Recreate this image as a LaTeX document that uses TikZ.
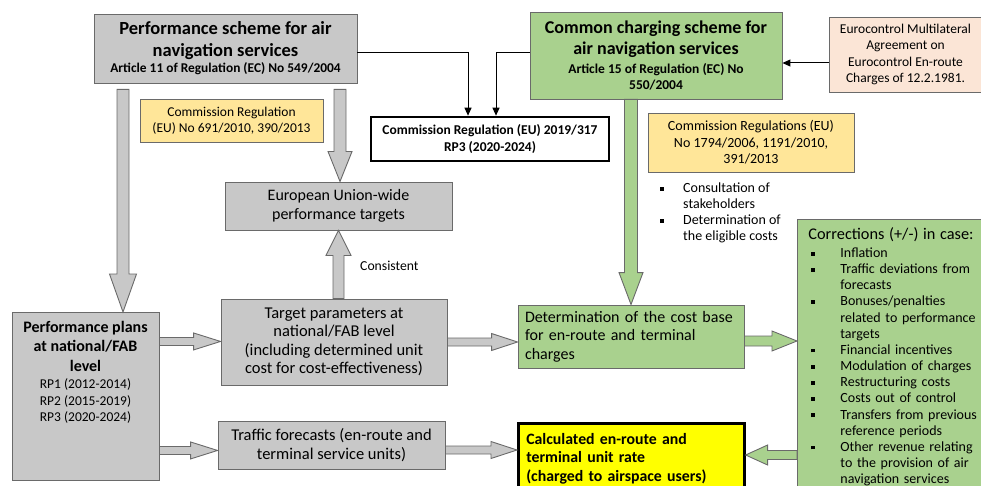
\documentclass[tikz,border=0pt]{standalone}
\usepackage{fontspec}
\setmainfont{Carlito}
\usetikzlibrary{calc,arrows.meta}
\definecolor{boxgray}{HTML}{C8C8C8}
\definecolor{edgegray}{HTML}{6A6A6A}
\definecolor{boxgreen}{HTML}{A9D18E}
\definecolor{boxyellow}{HTML}{FFE699}
\definecolor{boxpeach}{HTML}{FBE5D6}
\definecolor{brightyellow}{HTML}{FFFF00}
\newcommand{\fs}[2]{\fontsize{#1}{#2}\selectfont}
\newcommand{\bul}[1]{\makebox[#1][l]{\raisebox{2pt}{\rule{3.6pt}{3.6pt}}}}
\newcommand{\blockarrow}[6][]{%
  \path[#1] let \p1=(#2), \p2=(#3), \n1={atan2((\y2)-(\y1),(\x2)-(\x1))} in
    ($(\p1)+(\n1+90:#4)$) -- ($(\p2)+(\n1+180:#6)+(\n1+90:#4)$) --
    ($(\p2)+(\n1+180:#6)+(\n1+90:#5)$) -- (\p2) --
    ($(\p2)+(\n1+180:#6)+(\n1-90:#5)$) -- ($(\p2)+(\n1+180:#6)+(\n1-90:#4)$) --
    ($(\p1)+(\n1-90:#4)$) -- cycle;}
\tikzset{
  box/.style={draw=edgegray, line width=0.9pt, inner sep=2pt, align=center},
  graybox/.style={box, fill=boxgray},
  greenbox/.style={box, fill=boxgreen},
  yellowbox/.style={box, fill=boxyellow},
  peachbox/.style={box, fill=boxpeach},
  thickbox/.style={draw=black, line width=2.6pt, inner sep=2pt},
  grayarrow/.style={draw=edgegray, line width=0.9pt, fill=boxgray},
  greenarrow/.style={draw=edgegray, line width=0.9pt, fill=boxgreen},
  thinarrow/.style={draw=black, line width=1pt, -{Triangle[length=8pt,width=7pt]}},
}
\begin{document}
\begin{tikzpicture}[x=1pt,y=-1pt]
\useasboundingbox (0,0) rectangle (981,486);

% top boxes
\node[graybox, minimum width=263, minimum height=69, font=\fs{18.5}{22}\bfseries] (perf) at (225.5,48.5)
  {Performance scheme for air\\ navigation services\\[-6pt] \fs{13.4}{15}\bfseries Article 11 of Regulation (EC) No 549/2004};
\node[greenbox, minimum width=252, minimum height=87, font=\fs{18}{21}\bfseries] (ccs) at (656,55.5)
  {Common charging scheme for\\ air navigation services\\[-2pt] \fs{13.5}{17}\bfseries Article 15 of Regulation (EC) No\\[-5pt] \fs{13.5}{17}\bfseries 550/2004};
\node[peachbox, minimum width=153, minimum height=75, font=\fs{13.5}{16.5}] (euroc) at (905.5,54.5)
  {Eurocontrol Multilateral\\ Agreement on\\ Eurocontrol En-route\\ Charges of 12.2.1981.};

% regulation boxes
\node[yellowbox, minimum width=183, minimum height=43, font=\fs{13.5}{16}] (reg1) at (231.5,120.5)
  {Commission Regulation\\ (EU) No 691/2010, 390/2013};
\node[thickbox, minimum width=238, minimum height=44, align=center, font=\fs{13.5}{17}\bfseries] (reg317) at (490,139)
  {Commission Regulation (EU) 2019/317\\ RP3 (2020-2024)};
\node[yellowbox, minimum width=206, minimum height=59, font=\fs{14}{16.5}] (reg2) at (751,142.5)
  {Commission Regulations (EU)\\ No 1794/2006, 1191/2010,\\ 391/2013};

% middle
\node[graybox, minimum width=227, minimum height=48, font=\fs{16}{19}] (euwide) at (338.5,206)
  {European Union-wide\\ performance targets};
\node[anchor=north west, inner sep=0pt, align=left, font=\fs{14}{16}] (bullets) at (660,183)
  {\bul{23pt}Consultation of\\ \hspace*{23pt}stakeholders\\ \bul{23pt}Determination of\\ \hspace*{23pt}the eligible costs};
\node[anchor=west, inner sep=0pt, font=\fs{13.7}{15}] (consistent) at (360,266) {Consistent};

% lower left
\node[graybox, minimum width=147, minimum height=168, anchor=north] (plans) at (85.5,312) {};
\node[anchor=north, inner sep=0pt, align=center, font=\fs{16}{19.5}\bfseries] (planstext) at (85.5,321)
  {Performance plans\\ at national/FAB\\ level\\[-2pt] \fs{13.5}{16}\mdseries RP1 (2012-2014)\\[-3pt] \fs{13.5}{16}\mdseries RP2 (2015-2019)\\[-3pt] \fs{13.5}{16}\mdseries RP3 (2020-2024)};
\node[graybox, minimum width=226, minimum height=86, font=\fs{16.5}{18.5}] (targ) at (334,342)
  {Target parameters at\\ national/FAB level\\ (including determined unit\\ cost for cost-effectiveness)};
\node[graybox, minimum width=227, minimum height=48, font=\fs{16.5}{18.5}] (traf) at (331.5,445)
  {Traffic forecasts (en-route and\\ terminal service units)};

% lower right
\node[greenbox, minimum width=226, minimum height=63, text width=212, align=left, font=\fs{16}{18.5}] (costbase) at (631,336.5)
  {Determination of the cost base\\ for en-route and terminal\\ charges};
\node[thickbox, fill=brightyellow, minimum width=225, minimum height=70, anchor=north west, text width=210, align=left, inner xsep=8pt, inner ysep=6pt, font=\fs{15.8}{18.5}\bfseries] (calc) at (517,422)
  {Calculated en-route and\\ terminal unit rate\\ (charged to airspace users)};
\node[greenbox, anchor=north west, text width=195, align=left, inner xsep=11pt, inner ysep=8pt, font=\fs{14}{16.15}] (corr) at (797,219)
  {{\fs{16.3}{16.15}Corrections (+/-) in case:}\\[2pt]
   \hspace*{3pt}\bul{29pt}Inflation\\
   \hspace*{3pt}\bul{29pt}Traffic deviations from\\ \hspace*{32pt}forecasts\\
   \hspace*{3pt}\bul{29pt}Bonuses/penalties\\ \hspace*{32pt}related to performance\\ \hspace*{32pt}targets\\
   \hspace*{3pt}\bul{29pt}Financial incentives\\
   \hspace*{3pt}\bul{29pt}Modulation of charges\\
   \hspace*{3pt}\bul{29pt}Restructuring costs\\
   \hspace*{3pt}\bul{29pt}Costs out of control\\
   \hspace*{3pt}\bul{29pt}Transfers from previous\\ \hspace*{32pt}reference periods\\
   \hspace*{3pt}\bul{29pt}Other revenue relating\\ \hspace*{32pt}to the provision of air\\ \hspace*{32pt}navigation services\par\vspace*{14pt}};

% thin arrows
\draw[thinarrow] ([yshift=-4.5pt]perf.east) -| ([xshift=-22pt]reg317.north);
\draw[thinarrow] ([yshift=2.5pt]ccs.west) -| ([xshift=6pt]reg317.north);
\coordinate (eu1) at ([yshift=-8.5pt]euroc.west);
\draw[thinarrow] (eu1) -- (eu1 -| ccs.east);

% gray block arrows
\coordinate (a1s) at ([xshift=-102.5pt,yshift=-6pt]perf.south);
\blockarrow[grayarrow]{a1s}{a1s |- plans.north}{6pt}{13.5pt}{38pt}
\coordinate (a2s) at ([xshift=114.5pt,yshift=-6pt]perf.south);
\blockarrow[grayarrow]{a2s}{a2s |- euwide.north}{6pt}{12pt}{30pt}
\blockarrow[grayarrow]{euwide.south |- targ.north}{euwide.south}{5.5pt}{12.5pt}{25pt}
\coordinate (a4s) at ([yshift=55pt]plans.east);
\blockarrow[grayarrow]{a4s}{a4s -| targ.west}{4pt}{8.5pt}{27pt}
\coordinate (a5s) at ([yshift=-54pt]plans.east);
\blockarrow[grayarrow]{a5s}{a5s -| traf.west}{4pt}{8.5pt}{27pt}
\blockarrow[grayarrow]{targ.east}{targ.east -| costbase.west}{4pt}{8.5pt}{26pt}
\coordinate (a7s) at ([yshift=-5pt]traf.east);
\blockarrow[grayarrow]{a7s}{a7s -| calc.west}{4pt}{8.5pt}{26pt}

% green block arrows
\blockarrow[greenarrow]{costbase.north |- ccs.south}{costbase.north}{6.5pt}{12pt}{32pt}
\coordinate (g2s) at ([yshift=-4.5pt]costbase.east);
\blockarrow[greenarrow]{g2s}{g2s -| corr.west}{5pt}{10pt}{25pt}
\coordinate (g3s) at (corr.west |- 0,455);
\blockarrow[greenarrow]{g3s}{g3s -| calc.east}{4.5pt}{10pt}{22pt}
\end{tikzpicture}
\end{document}
